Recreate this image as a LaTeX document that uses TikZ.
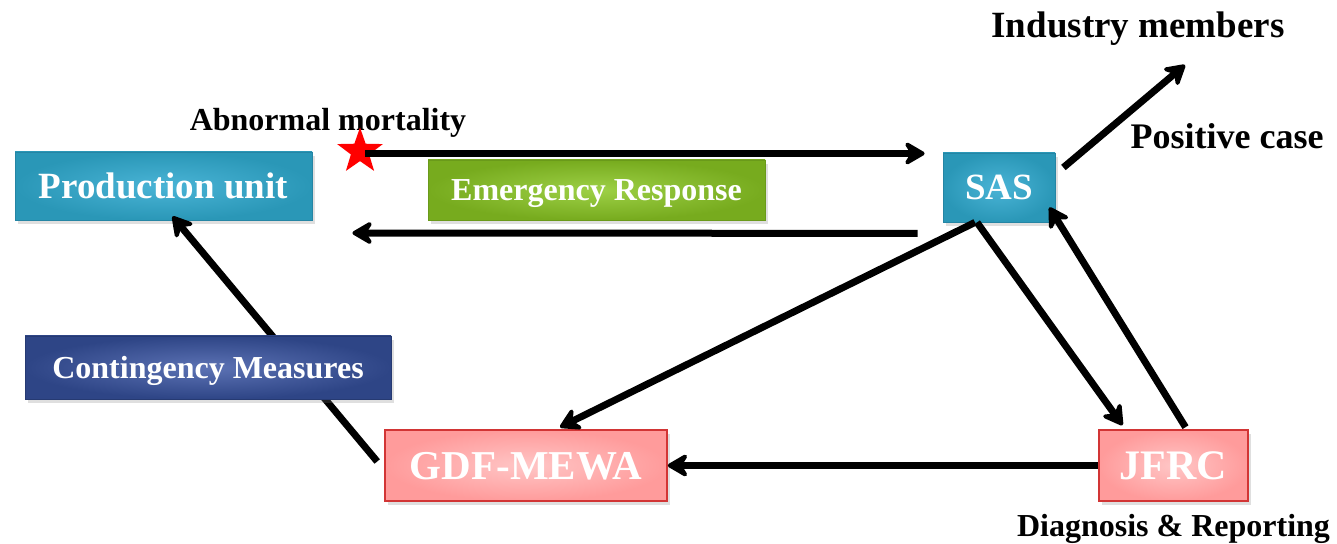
\documentclass[tikz,border=0pt]{standalone}
\usepackage{fontspec}
\setmainfont{Liberation Serif}
\usetikzlibrary{shapes.geometric,arrows.meta,positioning,calc,shadows}
\definecolor{unitbg}{HTML}{2A97B7}
\definecolor{unitin}{HTML}{4AB4D6}
\definecolor{unitedge}{HTML}{2585A4}
\definecolor{respbg}{HTML}{77AB1E}
\definecolor{respin}{HTML}{9DD046}
\definecolor{respedge}{HTML}{6A9A1A}
\definecolor{planbg}{HTML}{2E4586}
\definecolor{planin}{HTML}{5C72B4}
\definecolor{planedge}{HTML}{263A72}
\definecolor{labbg}{HTML}{FF9B9B}
\definecolor{labin}{HTML}{FFC6C6}
\definecolor{labedge}{HTML}{D23535}
\tikzset{
  box/.style   = {rectangle, draw, thin, align=center, text=white, inner sep=2pt, text depth=0pt,
                  drop shadow={shadow xshift=1.5pt, shadow yshift=-2pt, opacity=0.25}},
  unit/.style  = {box, draw=unitedge, inner color=unitin, outer color=unitbg},
  resp/.style  = {box, draw=respedge, inner color=respin, outer color=respbg},
  plan/.style  = {box, draw=planedge, inner color=planin, outer color=planbg},
  lab/.style   = {box, draw=labedge, line width=0.8pt, inner color=labin, outer color=labbg},
  note/.style  = {text=black, inner sep=1pt},
  flow/.style  = {-{Stealth[length=12.5pt,width=14.5pt,inset=4.5pt,round]}, line width=3.5pt, draw=black},
}

\begin{document}
\begin{tikzpicture}[x=0.5pt,y=-0.5pt]
\useasboundingbox (0,0) rectangle (1337,544);

% --- boxes
\node[unit, minimum width=148.5pt, minimum height=34pt,
      font=\fontsize{18.5pt}{22pt}\selectfont\bfseries] (prod) at (163.5,186) {Production unit};
\node[resp, minimum width=168.5pt, minimum height=30pt,
      font=\fontsize{16pt}{19pt}\selectfont\bfseries] (resp) at (596.5,190) {Emergency Response};
\node[unit, minimum width=56pt, minimum height=34.5pt,
      font=\fontsize{18.5pt}{22pt}\selectfont\bfseries] (sas) at (999,187.5) {SAS};
\node[lab, minimum width=141pt, minimum height=35.5pt,
      font=\fontsize{20.5pt}{24pt}\selectfont\bfseries] (gdf) at (526,465.5) {GDF-MEWA};
\node[lab, minimum width=74.5pt, minimum height=35.5pt,
      font=\fontsize{21pt}{24pt}\selectfont\bfseries] (jfrc) at (1173.5,465.5) {JFRC};

% --- labels
\node[note, anchor=base, font=\fontsize{16pt}{19pt}\selectfont\bfseries] (mort) at (328,131) {Abnormal mortality};
\node[note, anchor=base, font=\fontsize{18.5pt}{22pt}\selectfont\bfseries] (ind) at (1138,38) {Industry members};
\node[note, anchor=base, font=\fontsize{18pt}{22pt}\selectfont\bfseries] (pos) at (1227,149) {Positive case};
\node[note, below=5pt of jfrc, font=\fontsize{16pt}{19pt}\selectfont\bfseries] (diag) {Diagnosis \& Reporting};
\node[star, star points=5, star point ratio=2.5, fill=red, minimum size=24pt, inner sep=0pt] (star) at (360,151.5) {};
\coordinate (indpt) at ($(ind.base)+(47,27)$);

% --- arrows
\draw[flow] ($(star.center)+(5,2)$) -- ($(sas.west |- star.center)+(-18,2)$);
\draw[flow] ($(sas.south west)+(-25,11)$) -- ($(prod.east)+(40,47)$);
\draw[flow] ($(sas.east)+(8,-20)$) -- (indpt);
\draw[flow] ($(sas.south)+(-24,0)$) -- ($(gdf.north)+(34,-2)$);
\draw[flow] ($(sas.south)+(-22,0)$) -- ($(jfrc.north)+(-51,-4)$);
\draw[flow] ($(jfrc.north)+(12,-2)$) -- ($(sas.south east)+(-6,-15)$);
\draw[flow] (jfrc.west) -- (gdf.east);
\draw[flow] ($(gdf.west)+(-7,-4)$) -- ($(prod.south)+(9,-4)$);

% --- drawn last, over the arrow behind it
\node[plan, minimum width=183pt, minimum height=31.5pt,
      font=\fontsize{16pt}{19pt}\selectfont\bfseries] (cont) at (208,367.5) {Contingency Measures};

\end{tikzpicture}
\end{document}
